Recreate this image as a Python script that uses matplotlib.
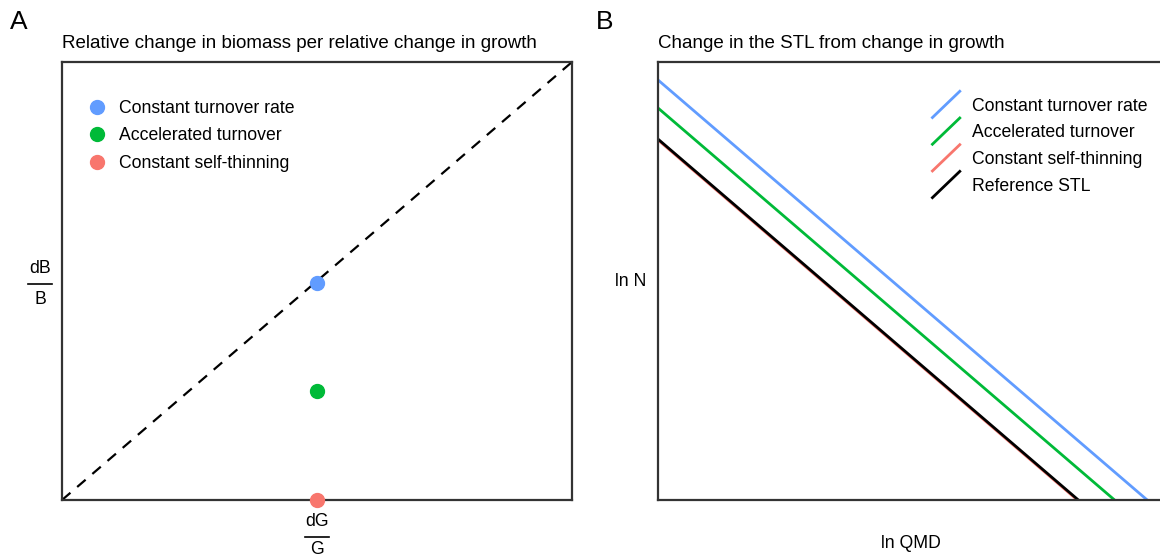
import matplotlib.pyplot as plt
from matplotlib.lines import Line2D
from matplotlib.legend_handler import HandlerLine2D

plt.rcParams['font.family'] = ['Liberation Sans', 'DejaVu Sans']

# panel A: points at dG/G = 0.5
labels_a = ["Constant turnover rate", "Accelerated turnover", "Constant self-thinning"]
point_x = [0.5, 0.5, 0.5]
point_y = [0.495, 0.249, 0.0]
colors_a = ["#619CFF", "#00BA38", "#F8766D"]

# panel B: straight lines ln N = intercept - slope * ln QMD
labels_b = ["Constant turnover rate", "Accelerated turnover", "Constant self-thinning", "Reference STL"]
intercepts = [9.59, 8.95, 8.22, 8.24]
slope = 0.99
colors_b = ["#619CFF", "#00BA38", "#F8766D", "black"]

FS = 12.7


class DiagHandler(HandlerLine2D):
    def create_artists(self, legend, orig_handle, xdescent, ydescent,
                       width, height, fontsize, trans):
        ln = Line2D([-xdescent, -xdescent + width],
                    [-ydescent - 5, -ydescent + height + 5],
                    color=orig_handle.get_color(), lw=orig_handle.get_linewidth())
        ln.set_transform(trans)
        return [ln]


fig = plt.figure(figsize=(11.6, 5.6), dpi=100)
W, H = 1160, 560

def ax_rect(x0, y0, x1, y1):
    return [x0 / W, 1 - y1 / H, (x1 - x0) / W, (y1 - y0) / H]

# ---- panel A
axA = fig.add_axes(ax_rect(62, 62, 572, 500))
axA.plot([0, 1], [0, 1], ls=(0, (5, 4)), color="black", lw=1.6)
for x, y, c, lab in zip(point_x, point_y, colors_a, labels_a):
    axA.plot(x, y, "o", color=c, ms=10, clip_on=False, zorder=5, label=lab)
axA.set_xlim(0, 1)
axA.set_ylim(0, 1)
axA.set_xticks([])
axA.set_yticks([])
for s in axA.spines.values():
    s.set_linewidth(1.6)
    s.set_color("#333333")
axA.legend(loc="upper left", bbox_to_anchor=(0.021, 0.95), frameon=False,
           fontsize=FS, handletextpad=0.7, labelspacing=0.6,
           handlelength=1.0)

# ---- panel B
axB = fig.add_axes(ax_rect(658, 62, 1163, 500))
xs = [0, 10.5]
for b, c, lab in zip(intercepts, colors_b, labels_b):
    axB.plot(xs, [b - slope * x for x in xs], color=c, lw=2, label=lab)
axB.set_xlim(0, 10)
axB.set_ylim(0, 10)
axB.set_xticks([])
axB.set_yticks([])
for s in axB.spines.values():
    s.set_linewidth(1.6)
    s.set_color("#333333")
axB.set_xlabel("ln QMD", fontsize=FS, labelpad=25)
axB.set_ylabel("ln N", fontsize=FS, rotation=0, labelpad=20, va="center")
axB.legend(loc="upper left", bbox_to_anchor=(0.512, 0.955), frameon=False,
           fontsize=FS, handletextpad=0.7, labelspacing=0.55,
           handlelength=1.55, handler_map={Line2D: DiagHandler()})

# titles and panel tags
fig.text(62 / W, 1 - 43 / H, "Relative change in biomass per relative change in growth",
         fontsize=13.5, va="center", ha="left")
fig.text(658 / W, 1 - 43 / H, "Change in the STL from change in growth",
         fontsize=13.5, va="center", ha="left")
fig.text(10 / W, 1 - 22 / H, "A", fontsize=19, va="center", ha="left")
fig.text(596 / W, 1 - 22 / H, "B", fontsize=19, va="center", ha="left")

# fraction labels for panel A
def frac(xc, y_num, y_bar, y_den, num, den, half):
    fig.text(xc / W, 1 - y_num / H, num, fontsize=FS, ha="center", va="center")
    fig.text(xc / W, 1 - y_den / H, den, fontsize=FS, ha="center", va="center")
    fig.add_artist(Line2D([(xc - half) / W, (xc + half) / W], [1 - y_bar / H] * 2,
                          color="black", lw=1.2))

frac(40, 268, 284, 300, "dB", "B", 12)
frac(317, 521, 537, 550, "dG", "G", 12)

fig.savefig("out.png", dpi=100)
